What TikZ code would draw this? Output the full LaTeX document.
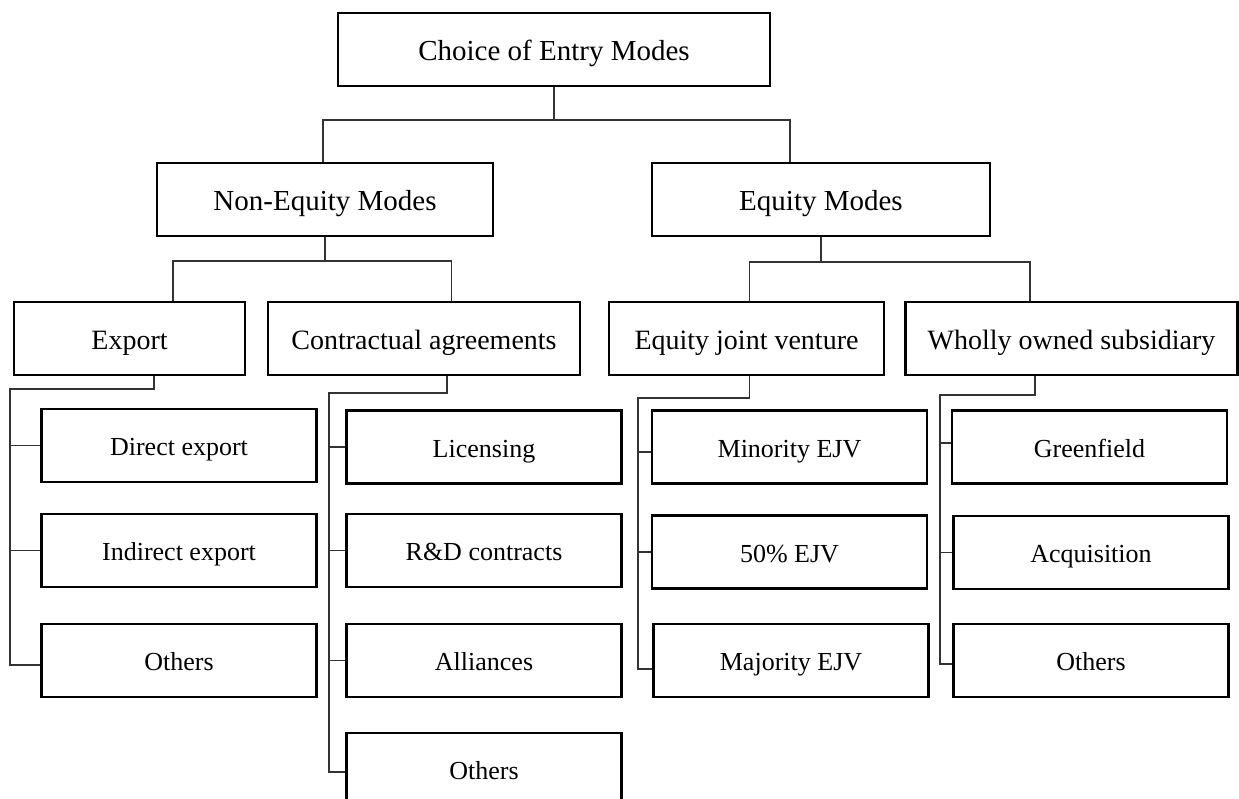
\documentclass[tikz,border=0pt]{standalone}
\usepackage{fontspec}
\setmainfont{Liberation Serif}
\begin{document}
\begin{tikzpicture}[x=1pt,y=-1pt,
  box/.style={draw=black, line width=2.5pt, minimum height=73pt, inner sep=0pt, anchor=center},
  big/.style={box, text height=24pt, text depth=2.6pt, font=\fontsize{29}{34}\selectfont},
  mid/.style={box, text height=24pt, text depth=2.4pt, font=\fontsize{28}{33}\selectfont},
  leaf/.style={box, minimum width=275pt, text height=23pt, text depth=2.6pt, font=\fontsize{26}{31}\selectfont},
  link/.style={draw=black!80, line width=1.1pt}]
\useasboundingbox (0,0) rectangle (1239,798);

% top of the hierarchy and the two mode groups
\node[big, minimum width=432pt] (top) at (554,49.5) {Choice of Entry Modes};
\node[big, minimum width=336pt] (noneq) at (325,199.5) {Non-Equity Modes};
\node[big, minimum width=338pt] (eq) at (821,199.5) {Equity Modes};

% entry mode families
\node[mid, minimum width=231pt] (export) at (129.5,338.5) {Export};
\node[mid, minimum width=312pt] (contract) at (424,338.5) {Contractual agreements};
\node[mid, minimum width=275pt] (ejv) at (746.5,338.5) {Equity joint venture};
\node[mid, minimum width=332pt] (wos) at (1071.5,338.5) {Wholly owned subsidiary};

% individual modes
\node[leaf] (direct) at (179,445.5) {Direct export};
\node[leaf] (indirect) at (179,550.5) {Indirect export};
\node[leaf] (othersA) at (179,660.5) {Others};
\node[leaf] (licensing) at (484,447) {Licensing};
\node[leaf] (rnd) at (484,550.5) {R\&D contracts};
\node[leaf] (alliances) at (484,660.5) {Alliances};
\node[leaf] (othersB) at (484,769.5) {Others};
\node[leaf] (minority) at (789.5,447) {Minority EJV};
\node[leaf] (fifty) at (789.5,552) {50\% EJV};
\node[leaf] (majority) at (791,660.5) {Majority EJV};
\node[leaf] (green) at (1089.5,447) {Greenfield};
\node[leaf] (acq) at (1091,552.5) {Acquisition};
\node[leaf] (othersC) at (1091,660.5) {Others};

% root bus
\coordinate (busL) at (323,120);
\coordinate (busR) at (790,120);
\draw[link] (top.south) -- (top.south |- busL);
\draw[link] (busL |- noneq.north) -- (busL) -- (busR) -- (busR |- eq.north);

% non-equity bus
\coordinate (neL) at (173,261);
\coordinate (neR) at (451.5,261);
\draw[link] (noneq.south) -- (noneq.south |- neL);
\draw[link] (neL |- export.north) -- (neL) -- (neR) -- (neR |- contract.north);

% equity bus
\coordinate (eqL) at (749.7,262);
\coordinate (eqR) at (1030,262);
\draw[link] (eq.south) -- (eq.south |- eqL);
\draw[link] (eqL |- ejv.north) -- (eqL) -- (eqR) -- (eqR |- wos.north);

% export trunk
\coordinate (exJ) at (154,389);
\coordinate (exT) at (10,389);
\coordinate (exB) at (10,665);
\draw[link] (exJ |- export.south) -- (exJ) -- (exT) -- (exB) -- (exB -| othersA.west);
\draw[link] (exT |- direct.west) -- (direct.west);
\draw[link] (exT |- indirect.west) -- (indirect.west);

% contractual trunk
\coordinate (caJ) at (447,393);
\coordinate (caT) at (329,393);
\coordinate (caB) at (329,772);
\draw[link] (caJ |- contract.south) -- (caJ) -- (caT) -- (caB) -- (caB -| othersB.west);
\draw[link] (caT |- licensing.west) -- (licensing.west);
\draw[link] (caT |- rnd.west) -- (rnd.west);
\draw[link] (caT |- alliances.west) -- (alliances.west);

% joint venture trunk
\coordinate (ejJ) at (749.7,398);
\coordinate (ejT) at (638,398);
\coordinate (ejB) at (638,669);
\coordinate (ejM) at (638,452);
\draw[link] (ejJ |- ejv.south) -- (ejJ) -- (ejT) -- (ejB) -- (ejB -| majority.west);
\draw[link] (ejM) -- (ejM -| minority.west);
\draw[link] (ejT |- fifty.west) -- (fifty.west);

% subsidiary trunk
\coordinate (woJ) at (1035,395);
\coordinate (woT) at (940,395);
\coordinate (woB) at (940,664);
\coordinate (woG) at (940,443);
\draw[link] (woJ |- wos.south) -- (woJ) -- (woT) -- (woB) -- (woB -| othersC.west);
\draw[link] (woG) -- (woG -| green.west);
\draw[link] (woT |- acq.west) -- (acq.west);
\end{tikzpicture}
\end{document}
